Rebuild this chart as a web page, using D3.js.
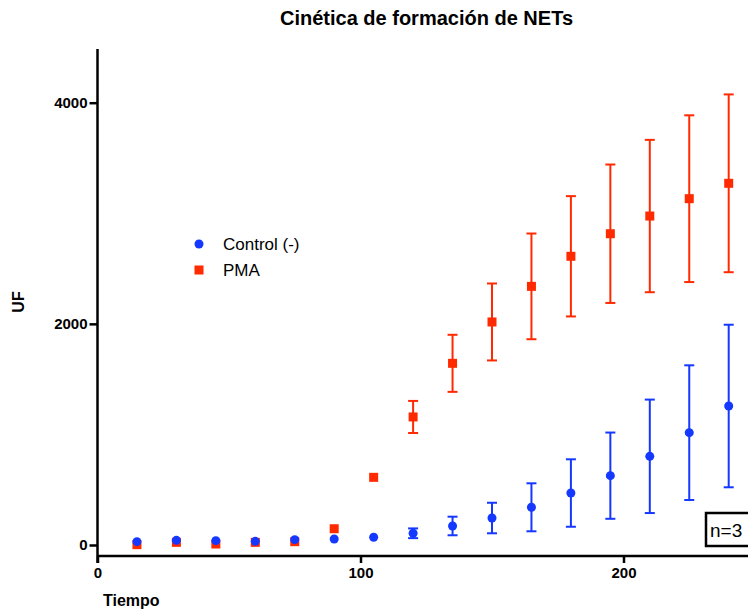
<!DOCTYPE html>
<html>
<head>
<meta charset="utf-8">
<script src="https://cdn.jsdelivr.net/npm/d3@7"></script>
<style>
  body { margin: 0; background: #fff; }
  svg { display: block; font-family: "Liberation Sans", Arial, sans-serif; }
</style>
</head>
<body>
<svg id="chart" width="748" height="611"></svg>
<script>
// data (tiempo en minutos, UF)
const tiempo = [15, 30, 45, 60, 75, 90, 105, 120, 135, 150, 165, 180, 195, 210, 225, 240];
const controlMedia = [30, 42, 39, 33, 48, 54, 70, 106, 172, 244, 341, 470, 627, 802, 1016, 1257];
const controlSem = [0, 0, 0, 0, 0, 0, 0, 44, 84, 138, 217, 305, 390, 513, 609, 735];
const pmaMedia = [3, 24, 9, 24, 30, 147, 612, 1158, 1643, 2017, 2339, 2611, 2815, 2975, 3132, 3271];
const pmaSem = [0, 0, 0, 0, 0, 0, 0, 145, 258, 348, 478, 544, 626, 689, 754, 804];
const xTicks = [0, 100, 200];
const yTicks = [0, 2000, 4000];

const seriesNames = ["Control (-)", "PMA"];
const blue = "#1438ff";
const red = "#ff2a00";

const svg = d3.select("#chart");

const x = d3.scaleLinear().domain([0, 200]).range([97.5, 623.5]);
const y = d3.scaleLinear().domain([0, 4000]).range([545, 102.7]);

const axisY = 556;   // where the x axis sits
const axisTop = 49;

// title
svg.append("text")
    .attr("x", 426.5).attr("y", 25)
    .attr("text-anchor", "middle")
    .attr("font-weight", "bold")
    .attr("font-size", 20)
    .text("Cinética de formación de NETs");

// axes
const gx = svg.append("g")
    .attr("transform", `translate(0,${axisY})`)
    .call(d3.axisBottom(x).tickValues(xTicks).tickSize(7).tickPadding(4));
const gy = svg.append("g")
    .attr("transform", `translate(${x(0)},0)`)
    .call(d3.axisLeft(y).tickValues(yTicks).tickSize(8).tickPadding(2).tickFormat(d3.format("d")));

[gx, gy].forEach(g => {
    g.select(".domain").remove();
    g.selectAll(".tick line").attr("stroke", "#000").attr("stroke-width", 2.5);
    g.selectAll(".tick text")
        .attr("fill", "#000")
        .attr("font-size", 15)
        .attr("font-weight", "bold")
        .attr("font-family", '"Liberation Sans", Arial, sans-serif');
});

svg.append("line")
    .attr("x1", x(0)).attr("x2", x(0))
    .attr("y1", axisTop).attr("y2", axisY + 7)
    .attr("stroke", "#000").attr("stroke-width", 2.5);
svg.append("line")
    .attr("x1", x(0)).attr("x2", 760)
    .attr("y1", axisY).attr("y2", axisY)
    .attr("stroke", "#000").attr("stroke-width", 2.5);

// axis titles
svg.append("text")
    .attr("x", 103).attr("y", 606)
    .attr("font-weight", "bold").attr("font-size", 16)
    .text("Tiempo");
svg.append("text")
    .attr("transform", "translate(24,302) rotate(-90)")
    .attr("text-anchor", "middle")
    .attr("font-weight", "bold").attr("font-size", 16)
    .text("UF");

// series
const series = [
    { name: seriesNames[1], color: red, mean: pmaMedia, sem: pmaSem, shape: "square" },
    { name: seriesNames[0], color: blue, mean: controlMedia, sem: controlSem, shape: "circle" }
];

series.forEach(s => {
    const pts = tiempo.map((t, i) => ({ t: t, m: s.mean[i], e: s.sem[i] }));
    const g = svg.append("g");

    const bars = g.selectAll(".err")
        .data(pts.filter(d => d.e > 0))
        .join("g")
        .attr("stroke", s.color)
        .attr("stroke-width", 2);
    bars.append("line")
        .attr("x1", d => x(d.t)).attr("x2", d => x(d.t))
        .attr("y1", d => y(d.m - d.e)).attr("y2", d => y(d.m + d.e));
    bars.append("line")
        .attr("x1", d => x(d.t) - 5).attr("x2", d => x(d.t) + 5)
        .attr("y1", d => y(d.m + d.e)).attr("y2", d => y(d.m + d.e));
    bars.append("line")
        .attr("x1", d => x(d.t) - 5).attr("x2", d => x(d.t) + 5)
        .attr("y1", d => y(d.m - d.e)).attr("y2", d => y(d.m - d.e));

    if (s.shape === "circle") {
        g.selectAll("circle")
            .data(pts)
            .join("circle")
            .attr("cx", d => x(d.t))
            .attr("cy", d => y(d.m))
            .attr("r", 4.5)
            .attr("fill", s.color);
    } else {
        g.selectAll("rect")
            .data(pts)
            .join("rect")
            .attr("x", d => x(d.t) - 4.5)
            .attr("y", d => y(d.m) - 4.5)
            .attr("width", 9).attr("height", 9)
            .attr("fill", s.color);
    }
});

// legend
const legend = svg.append("g");
legend.append("circle").attr("cx", 199).attr("cy", 244).attr("r", 4.5).attr("fill", blue);
legend.append("text").attr("x", 223).attr("y", 250).attr("font-size", 17).text(seriesNames[0]);
legend.append("rect").attr("x", 194.5).attr("y", 265.5).attr("width", 9).attr("height", 9).attr("fill", red);
legend.append("text").attr("x", 223).attr("y", 276).attr("font-size", 17).text(seriesNames[1]);

// n box
svg.append("rect")
    .attr("x", 706).attr("y", 513)
    .attr("width", 60).attr("height", 33)
    .attr("fill", "#fff").attr("stroke", "#000").attr("stroke-width", 2.5);
svg.append("text")
    .attr("x", 710).attr("y", 537)
    .attr("font-size", 19)
    .text("n=3");
</script>
</body>
</html>
